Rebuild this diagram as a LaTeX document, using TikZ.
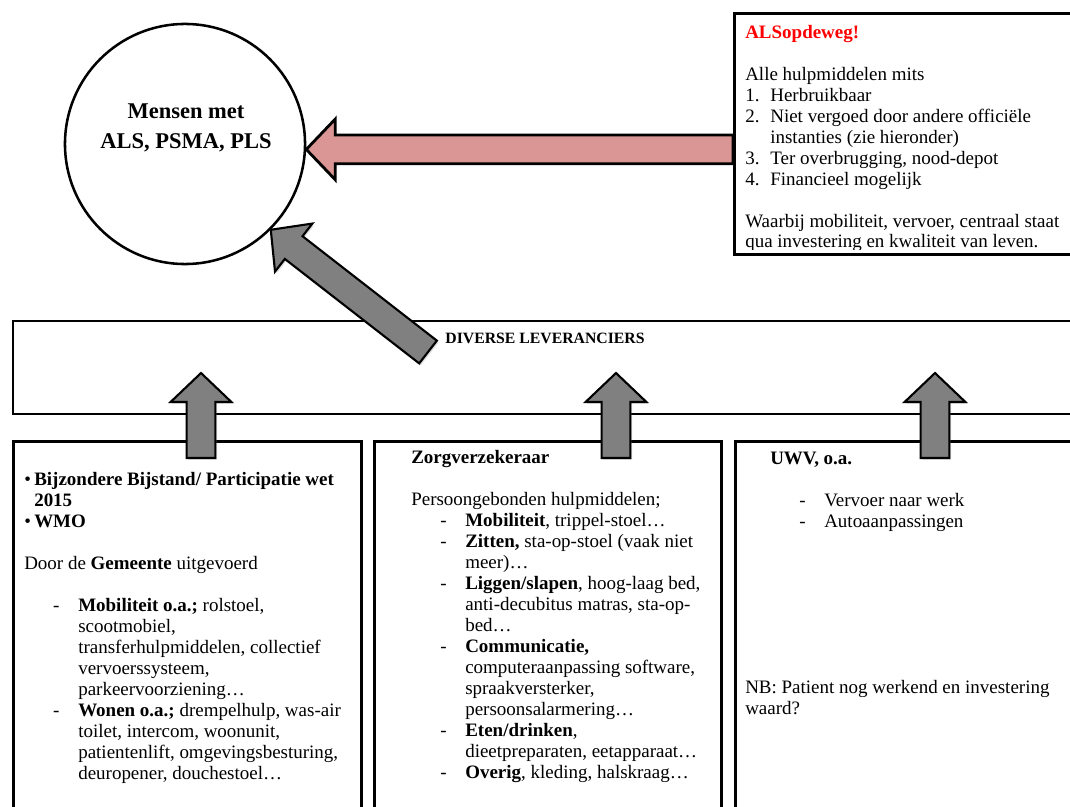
\documentclass[tikz,border=0pt]{standalone}
\usepackage{fontspec}
\setmainfont{Liberation Serif}
\usetikzlibrary{calc,shadows}

\definecolor{arrowpink}{RGB}{217,150,148}
\definecolor{arrowgray}{RGB}{128,128,128}

% lines in the text boxes
\newcommand{\dln}{\hspace*{20.6pt}\makebox[17.8pt][l]{-}}
\newcommand{\cln}{\hspace*{38.4pt}}
\newcommand{\nln}[1]{\makebox[17.8pt][l]{#1}}
\newcommand{\bln}{\makebox[7.1pt][l]{\textbullet}}

% block arrow from #2 to #3
\newcommand{\blockarrow}[3]{%
  \coordinate (ba-head) at ($(#3)!0.725cm!(#2)$);
  \draw[#1] ($(#2)!0.36cm!90:(#3)$) -- ($(ba-head)!0.36cm!90:(#3)$)
    -- ($(ba-head)!0.76cm!90:(#3)$) -- (#3)
    -- ($(ba-head)!0.76cm!-90:(#3)$) -- ($(ba-head)!0.36cm!-90:(#3)$)
    -- ($(#2)!0.36cm!-90:(#3)$) -- cycle;
}

\begin{document}
\begin{tikzpicture}[x=0.025cm, y=-0.025cm, line join=miter,
    box/.style={draw, line width=1.8pt, minimum width=8.7cm, anchor=north west, inner sep=0pt},
    txt/.style={anchor=north west, align=left, inner sep=0pt, font=\fontsize{13.5}{14.9}\selectfont},
    graybar/.style={fill=arrowgray, draw=black, line width=1.5pt,
      drop shadow={opacity=0.3, shadow xshift=1.2pt, shadow yshift=-1.2pt}},
    pinkbar/.style={fill=arrowpink, draw=black, line width=2pt}]
  \useasboundingbox (0,0) rectangle (1070,807);

  % patients
  \node[circle, draw, line width=1.8pt, minimum size=6cm, inner sep=0pt] (mensen) at (185,144) {};
  \node[align=center, font=\bfseries\fontsize{16}{21}\selectfont] (mensentxt) at (186,128) {Mensen met\\ALS, PSMA, PLS};

  % ALSopdeweg
  \node[box, minimum width=8.9cm, minimum height=6.025cm] (alsbox) at (733,12) {};
  \begin{scope}
    \clip ([yshift=0.15cm]alsbox.south west) rectangle (alsbox.north east);
    \node[txt] (alstxt) at (745,25) {{\color{red}\bfseries ALSopdeweg!}\\[14.9pt]
      Alle hulpmiddelen mits\\
      \nln{1.}Herbruikbaar\\
      \nln{2.}Niet vergoed door andere officiële\\
      \hspace*{17.8pt}instanties (zie hieronder)\\
      \nln{3.}Ter overbrugging, nood-depot\\
      \nln{4.}Financieel mogelijk\\[14.9pt]
      Waarbij mobiliteit, vervoer, centraal staat\\
      qua investering en kwaliteit van leven.};
  \end{scope}

  % suppliers
  \node[box, line width=1.4pt, minimum width=26.9cm, minimum height=2.325cm] (lev) at (12,320) {};
  \node[font=\bfseries\fontsize{11.2}{13}\selectfont] (levtxt) at (545,338) {DIVERSE LEVERANCIERS};

  % funders
  \node[box, minimum height=10cm] (gem) at (12,440) {};
  \node[box, minimum width=8.675cm, minimum height=10cm] (zorg) at (373,440) {};
  \node[box, minimum width=9cm, minimum height=10cm] (uwv) at (734,440) {};

  \node[txt] (gemtxt) at (24,472.5) {\bln\textbf{Bijzondere Bijstand/ Participatie wet}\\
    \hspace*{7.1pt}\textbf{2015}\\
    \bln\textbf{WMO}\\[14.9pt]
    Door de \textbf{Gemeente} uitgevoerd\\[14.9pt]
    \dln\textbf{Mobiliteit o.a.;} rolstoel,\\
    \cln scootmobiel,\\
    \cln transferhulpmiddelen, collectief\\
    \cln vervoerssysteem,\\
    \cln parkeervoorziening…\\
    \dln\textbf{Wonen o.a.;} drempelhulp, was-air\\
    \cln toilet, intercom, woonunit,\\
    \cln patientenlift, omgevingsbesturing,\\
    \cln deuropener, douchestoel…};

  \node[txt] (zorgtxt) at (411,450.5) {\textbf{Zorgverzekeraar}\\[14.9pt]
    Persoongebonden hulpmiddelen;\\
    \dln\textbf{Mobiliteit}, trippel-stoel…\\
    \dln\textbf{Zitten,} sta-op-stoel (vaak niet\\
    \cln meer)…\\
    \dln\textbf{Liggen/slapen}, hoog-laag bed,\\
    \cln anti-decubitus matras, sta-op-\\
    \cln bed…\\
    \dln\textbf{Communicatie,}\\
    \cln computeraanpassing software,\\
    \cln spraakversterker,\\
    \cln persoonsalarmering…\\
    \dln\textbf{Eten/drinken},\\
    \cln dieetpreparaten, eetapparaat…\\
    \dln\textbf{Overig}, kleding, halskraag…};

  \node[txt] (uwvtxt) at (770,451.5) {\textbf{UWV, o.a.}\\[14.9pt]
    \dln Vervoer naar werk\\
    \dln Autoaanpassingen};
  \node[txt] (uwvnb) at (745,680.5) {NB: Patient nog werkend en investering\\waard?};

  % arrows
  \coordinate (alsin) at ([yshift=-0.39cm]alsbox.west);
  \coordinate (mensenin) at (mensen.east |- alsin);
  \blockarrow{pinkbar}{alsin}{mensenin}

  \coordinate (levout) at (428,352);
  \blockarrow{graybar}{levout}{mensen.-45}

  \coordinate (gemup) at (201,458);
  \coordinate (zorgup) at (616,458);
  \coordinate (uwvup) at (935,458);
  \coordinate (levgem) at (201,373);
  \coordinate (levzorg) at (616,373);
  \coordinate (levuwv) at (935,373);
  \blockarrow{graybar}{gemup}{levgem}
  \blockarrow{graybar}{zorgup}{levzorg}
  \blockarrow{graybar}{uwvup}{levuwv}
\end{tikzpicture}
\end{document}
